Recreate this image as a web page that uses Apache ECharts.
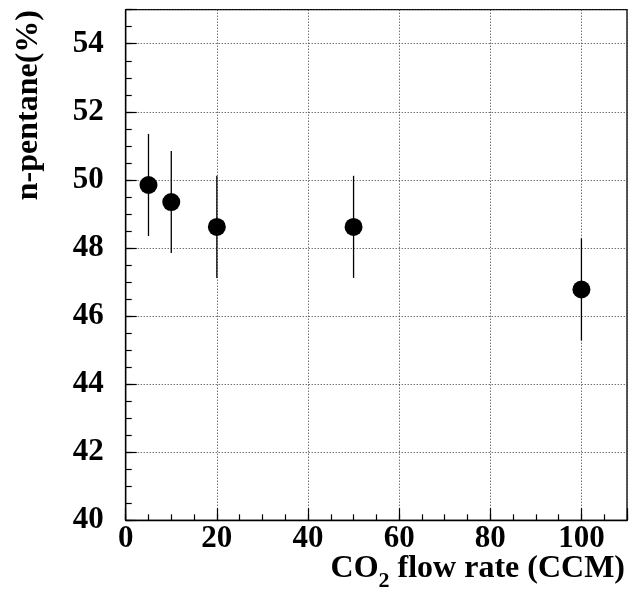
<!DOCTYPE html>
<html><head><meta charset="utf-8">
<script src="https://cdn.jsdelivr.net/npm/echarts@6/dist/echarts.min.js"></script>
<style>html,body{margin:0;padding:0;background:#fff}#c{width:630px;height:592px}</style>
</head><body><div id="c"></div>
<script>
const flowRate = [5, 10, 20, 50, 100];
const pentane = [49.85, 49.35, 48.62, 48.62, 46.78];
const pentaneErr = [1.5, 1.5, 1.5, 1.5, 1.5];
const xMajorTicks = [0, 20, 40, 60, 80, 100];
const yMajorTicks = [40, 42, 44, 46, 48, 50, 52, 54];
const xTitle = ['CO', '2', ' flow rate (CCM)'];
const yTitle = 'n-pentane(%)';

const FONT = 'Liberation Serif';
const chart = echarts.init(document.getElementById('c'), null, {renderer: 'canvas'});
const gridSplit = {show: true, lineStyle: {color: '#333', width: 1, type: [1, 2]}};
const lbl = {fontFamily: FONT, fontWeight: 'bold', fontSize: 31, color: '#000'};

// measure title pieces so the subscript can sit between them
const mctx = document.createElement('canvas').getContext('2d');
function tw(t, size) { mctx.font = 'bold ' + size + 'px "' + FONT + '"'; return mctx.measureText(t).width; }
const TS = 32, SS = 22, TRIGHT = 625;
const w3 = tw(xTitle[2], TS), w2 = tw(xTitle[1], SS);

chart.setOption({
  animation: false,
  grid: {left: 125.7, right: 3, top: 9.7, bottom: 71.7, show: true, borderColor: '#000', borderWidth: 1.3, backgroundColor: 'transparent'},
  xAxis: [
    {type: 'value', position: 'bottom', min: 0, max: 110, interval: 5,
     axisLine: {show: true, lineStyle: {color: '#000', width: 1.3}},
     axisTick: {show: true, inside: true, length: 6, lineStyle: {color: '#000', width: 1.2}},
     axisLabel: {show: false}, splitLine: {show: false}},
    {type: 'value', position: 'bottom', min: 0, max: 110, interval: 20,
     axisLine: {show: false},
     axisTick: {show: true, inside: true, length: 12, lineStyle: {color: '#000', width: 1.2}},
     axisLabel: Object.assign({margin: 3, showMaxLabel: true,
       formatter: v => xMajorTicks.indexOf(v) >= 0 ? String(v) : ''}, lbl),
     splitLine: gridSplit}
  ],
  yAxis: [
    {type: 'value', position: 'left', min: 40, max: 55, interval: 0.5,
     axisLine: {show: true, lineStyle: {color: '#000', width: 1.3}},
     axisTick: {show: true, inside: true, length: 6, lineStyle: {color: '#000', width: 1.2}},
     axisLabel: {show: false}, splitLine: {show: false}},
    {type: 'value', position: 'left', min: 40, max: 55, interval: 2,
     axisLine: {show: false},
     axisTick: {show: true, inside: true, length: 11, lineStyle: {color: '#000', width: 1.2}},
     axisLabel: Object.assign({margin: 22,
       formatter: v => yMajorTicks.indexOf(v) >= 0 ? String(v) : ''}, lbl),
     splitLine: gridSplit}
  ],
  series: [
    {type: 'custom', xAxisIndex: 0, yAxisIndex: 0, z: 3,
     data: flowRate.map((x, i) => [x, pentane[i], pentaneErr[i]]),
     renderItem: (params, api) => {
       const x = api.value(0), y = api.value(1), e = api.value(2);
       const p1 = api.coord([x, y + e]), p2 = api.coord([x, y - e]);
       return {type: 'line', shape: {x1: p1[0], y1: p1[1], x2: p2[0], y2: p2[1]},
               style: {stroke: '#000', lineWidth: 1.3}};
     }},
    {type: 'scatter', xAxisIndex: 0, yAxisIndex: 0, z: 4,
     symbol: 'circle', symbolSize: 18,
     itemStyle: {color: '#000', opacity: 1},
     emphasis: {disabled: true},
     data: flowRate.map((x, i) => [x, pentane[i]])}
  ],
  graphic: [
    {type: 'text', x: TRIGHT, y: 553,
     style: {text: xTitle[2], fontFamily: FONT, fontWeight: 'bold', fontSize: TS, fill: '#000', align: 'right', verticalAlign: 'top'}},
    {type: 'text', x: TRIGHT - w3, y: 570,
     style: {text: xTitle[1], fontFamily: FONT, fontWeight: 'bold', fontSize: SS, fill: '#000', align: 'right', verticalAlign: 'top'}},
    {type: 'text', x: TRIGHT - w3 - w2, y: 553,
     style: {text: xTitle[0], fontFamily: FONT, fontWeight: 'bold', fontSize: TS, fill: '#000', align: 'right', verticalAlign: 'top'}},
    {type: 'text', x: 28.5, y: 10, rotation: Math.PI / 2,
     style: {text: yTitle, fontFamily: FONT, fontWeight: 'bold', fontSize: 32, fill: '#000',
       align: 'right', verticalAlign: 'middle'}}
  ]
});
</script></body></html>
